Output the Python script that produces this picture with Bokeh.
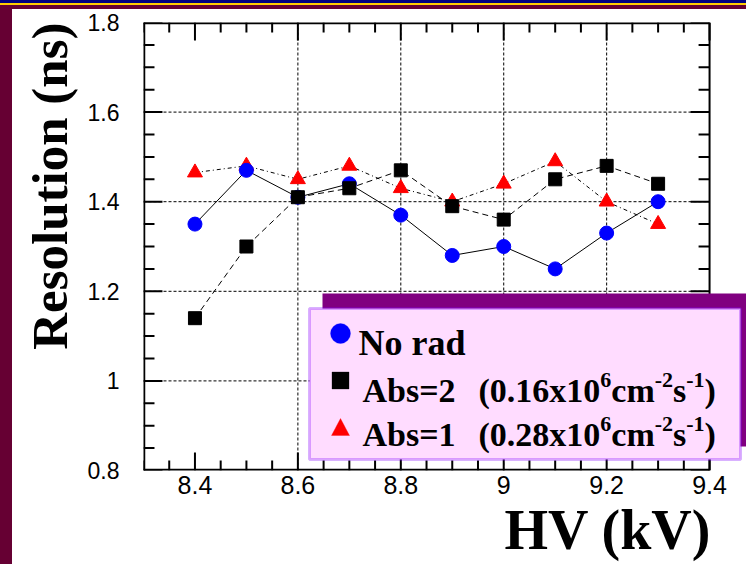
import numpy as np
from bokeh.plotting import figure
from bokeh.layouts import column, row
from bokeh.models import (Range1d, FixedTicker, BoxAnnotation, PolyAnnotation, Label, Title, Div)
from bokeh.embed import file_html
from bokeh.resources import INLINE

# ---------------- data ----------------
hv = [8.4, 8.5, 8.6, 8.7, 8.8, 8.9, 9.0, 9.1, 9.2, 9.3]
no_rad = [1.35, 1.47, 1.41, 1.44, 1.37, 1.28, 1.30, 1.25, 1.33, 1.40]
abs2 = [1.14, 1.30, 1.41, 1.43, 1.47, 1.39, 1.36, 1.45, 1.48, 1.44]
abs1 = [1.465, 1.48, 1.45, 1.48, 1.43, 1.40, 1.44, 1.49, 1.40, 1.35]

x_lo, x_hi = 8.3, 9.4
y_lo, y_hi = 0.8, 1.8
x_ticks = [8.4, 8.6, 8.8, 9.0, 9.2, 9.4]
x_tick_labels = ["8.4", "8.6", "8.8", "9", "9.2", "9.4"]
y_ticks = [0.8, 1.0, 1.2, 1.4, 1.6, 1.8]
y_tick_labels = ["0.8", "1", "1.2", "1.4", "1.6", "1.8"]
x_minor = [round(8.3 + 0.05 * i, 2) for i in range(23)]
y_minor = [round(0.8 + 0.05 * i, 2) for i in range(21)]

x_title = "HV (kV)"
y_title = "Resolution (ns)"
legend_rows = [
    ("No rad", None),
    ("Abs=2", "0.16"),
    ("Abs=1", "0.28"),
]

MAROON = "#660033"
SERIF = "Liberation Serif"
SANS = "Liberation Sans"

FW, FH = 567.0, 448.0
FRAME_W = 604
x_end = x_lo + (x_hi - x_lo) * FRAME_W / FW
dx = (x_hi - x_lo) / FW
dy = (y_hi - y_lo) / FH

TOP_H, LEFT_W = 9, 12
FIG_W, FIG_H = 746 - LEFT_W, 564 - TOP_H

p = figure(width=FIG_W, height=FIG_H, x_range=Range1d(x_lo, x_end), y_range=Range1d(y_lo, y_hi),
           output_backend="svg", toolbar_location=None,
           min_border_left=142 - LEFT_W, min_border_right=0, min_border_top=22 - TOP_H,
           min_border_bottom=FIG_H - (22 - TOP_H) - int(FH),
           background_fill_color="white", border_fill_color="white", outline_line_color=None)
p.xgrid.visible = False
p.ygrid.visible = False

xt = FixedTicker(ticks=x_ticks, minor_ticks=[])
yt = FixedTicker(ticks=y_ticks, minor_ticks=[])
p.xaxis.ticker = xt
p.yaxis.ticker = yt
for ax in p.axis:
    ax.axis_line_color = None
    ax.major_tick_line_color = None
    ax.minor_tick_line_color = None
    ax.major_tick_in = 0
    ax.major_tick_out = 0
    ax.minor_tick_in = 0
    ax.minor_tick_out = 0
    ax.major_label_text_font = SANS
    ax.major_label_text_color = "black"
p.xaxis.major_label_text_font_size = "25px"
p.xaxis.major_label_overrides = dict(zip(x_ticks, x_tick_labels))
p.xaxis.major_label_standoff = 5
p.yaxis.major_label_text_font_size = "23px"
p.yaxis.major_label_overrides = dict(zip(y_ticks, y_tick_labels))
p.yaxis.major_label_standoff = 24

# ---------------- grid (dotted) ----------------
gx = x_ticks[1:-1]
gy = y_ticks[1:-1]
p.segment(x0=gx, y0=[y_lo] * len(gx), x1=gx, y1=[y_hi] * len(gx),
          line_color="black", line_width=1, line_dash="3 2")
p.segment(x0=[x_lo] * len(gy), y0=gy, x1=[x_hi] * len(gy), y1=gy,
          line_color="black", line_width=1, line_dash="3 2")

# ---------------- inward ticks on all four sides ----------------
xm = np.array(x_minor, dtype=float)
ym = np.array(y_minor, dtype=float)
xM = np.array(x_ticks, dtype=float)
yM = np.array(y_ticks, dtype=float)

def tick_len(values, major, short, long_):
    return np.where(np.isin(np.round(values, 2), np.round(major, 2)), long_, short)

lx = tick_len(xm, xM, 10, 18)
ly = tick_len(ym, yM, 11, 19)
TK = dict(line_color="black", line_width=2)
p.segment(x0=xm, y0=np.full(len(xm), y_lo), x1=xm, y1=y_lo + lx * dy, **TK)
p.segment(x0=xm, y0=np.full(len(xm), y_hi), x1=xm, y1=y_hi - lx * dy, **TK)
p.segment(x0=np.full(len(ym), x_lo), y0=ym, x1=x_lo + ly * dx, y1=ym, **TK)
p.segment(x0=np.full(len(ym), x_hi), y0=ym, x1=x_hi - ly * dx, y1=ym, **TK)

# frame edges
p.segment(x0=[x_lo, x_lo, x_lo], y0=[y_lo, y_hi, y_lo], x1=[x_hi, x_hi, x_lo], y1=[y_lo, y_hi, y_hi],
          line_color="black", line_width=3.5)
p.segment(x0=[x_hi], y0=[y_lo], x1=[x_hi], y1=[y_hi], line_color="black", line_width=2)

# ---------------- series ----------------
p.line(hv, abs1, line_color="black", line_width=1, line_dash="4 3 1 3")
p.scatter(hv, abs1, marker="triangle", size=15, fill_color="red", line_color="red")
p.line(hv, no_rad, line_color="black", line_width=1)
p.scatter(hv, no_rad, marker="circle", size=14, fill_color="blue", line_color="blue")
p.line(hv, abs2, line_color="black", line_width=1, line_dash="6 4")
p.scatter(hv, abs2, marker="square", size=13, fill_color="black", line_color="black")

# ---------------- legend (screen units from the frame's bottom-left) ----------------
def sbox(l, r, b, t, **kw):
    return BoxAnnotation(left=l, right=r, bottom=b, top=t, left_units="screen",
                         right_units="screen", bottom_units="screen", top_units="screen", **kw)

p.add_layout(sbox(179, 610, 24, 177, fill_color="#800080", fill_alpha=1, line_color=None))
p.add_layout(sbox(166, 597, 11, 162, fill_color="#ffdcff", fill_alpha=1,
                  line_color="#8000ff", line_width=3))
p.add_layout(sbox(187, 207, 127, 147, fill_color="blue", fill_alpha=1,
                  line_color="blue", border_radius=10))
p.add_layout(sbox(188.5, 205.5, 81.5, 98.5, fill_color="black", fill_alpha=1, line_color="black"))
p.add_layout(PolyAnnotation(xs=[188, 206, 197], ys=[35, 35, 52], xs_units="screen", ys_units="screen",
                            fill_color="red", fill_alpha=1, line_color="red"))

W = {"A": .722, "b": .556, "s": .389, "=": .570, " ": .25, "(": .333, ")": .333, ".": .25,
     "x": .5, "c": .444, "m": .833, "-": .333}
def tw(t, size):
    return sum(W.get(ch, .5) for ch in t) * size

MAIN, SUP, RAISE = 34, 22, 11

def lab(x, y, t, size):
    p.add_layout(Label(x=x, y=y, x_units="screen", y_units="screen", text=t,
                       text_font=SERIF, text_font_style="bold", text_font_size=f"{size}px",
                       text_color="black", text_align="left", text_baseline="alphabetic"))

baselines = [128, 80, 36]
for (name, rate), yb in zip(legend_rows, baselines):
    if rate is None:
        lab(215, yb, name, MAIN + 2)
        continue
    lab(219, yb, name, MAIN)
    x = 335
    pieces = [("(" + rate + "x10", False), ("6", True), ("cm", False), ("-2", True),
              ("s", False), ("-1", True), (")", False)]
    for t, sup in pieces:
        if sup:
            lab(x, yb + RAISE, t, SUP)
            x += tw(t, SUP)
        else:
            lab(x, yb, t, MAIN)
            x += tw(t, MAIN)

# ---------------- axis titles ----------------
p.add_layout(Title(text=y_title, align="right", text_font=SERIF, text_font_style="bold",
                   text_font_size="51px", text_color="black", standoff=14), "left")
p.add_layout(Title(text=x_title, align="left", offset=361, text_font=SERIF, text_font_style="bold",
                   text_font_size="56px", text_color="black", standoff=0), "below")

# ---------------- page frame stripes ----------------
top = Div(text="", width=746, height=TOP_H, margin=0,
          styles={"background": "linear-gradient(to bottom, #000080 0px, #000080 3px, #ffcc00 3px, "
                                "#ffcc00 5px, #660033 5px, #660033 9px)"})
left = Div(text="", width=LEFT_W, height=FIG_H, margin=0, styles={"background-color": MAROON})
page = column(top, row(left, p, spacing=0), spacing=0)

open("out.html", "w").write(file_html(page, INLINE))
